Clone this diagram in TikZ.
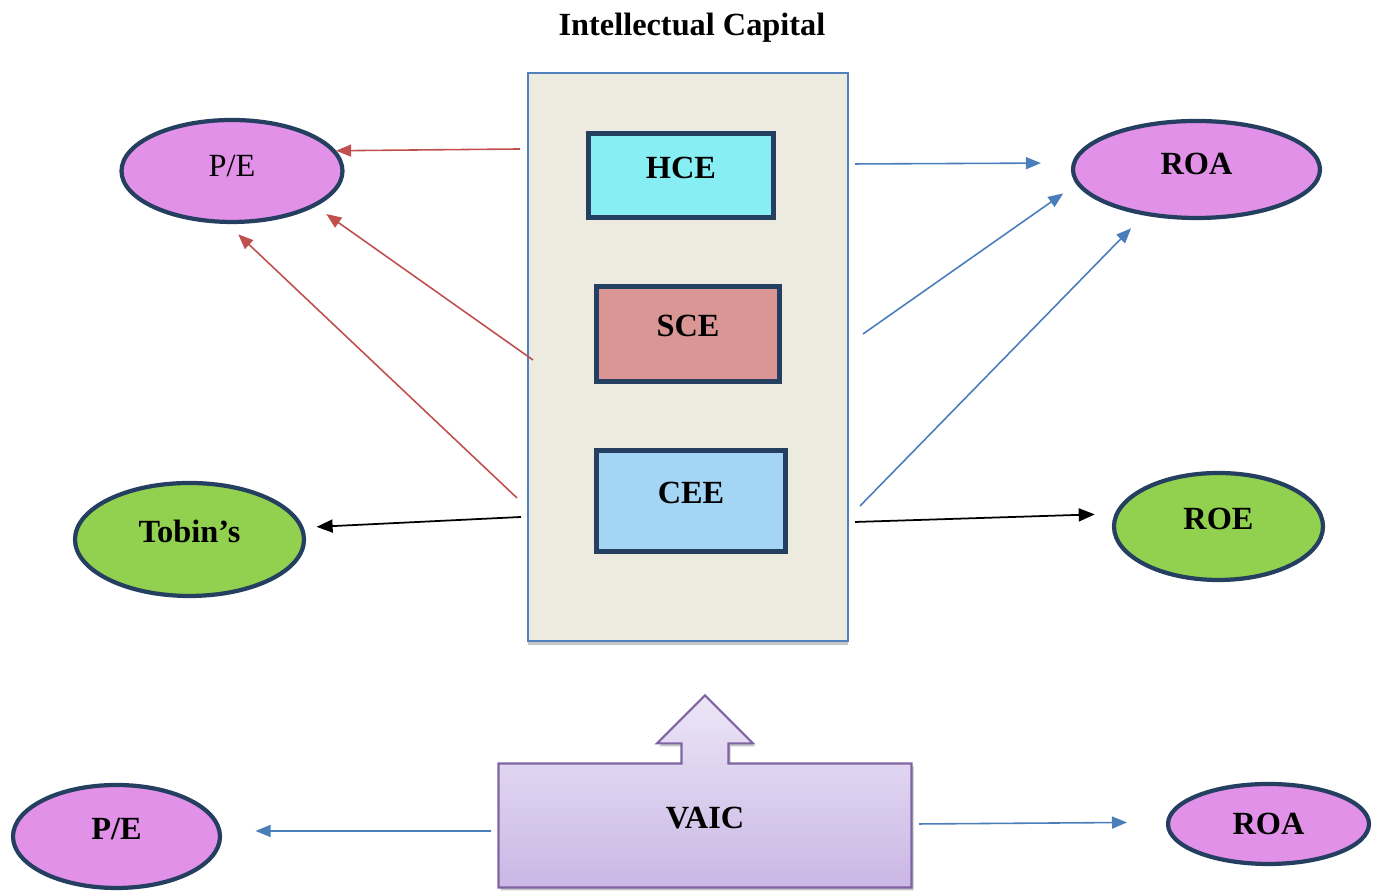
\documentclass[tikz,border=0pt]{standalone}
\usepackage{fontspec}
\setmainfont{Liberation Serif}
\usepackage{tikz}
\usetikzlibrary{arrows.meta}
\usetikzlibrary{positioning, shapes.geometric, shapes.arrows, shadows}

\definecolor{navy}{HTML}{243F60}
\definecolor{boxbg}{HTML}{EDEAE0}
\definecolor{boxline}{HTML}{4F81BD}
\definecolor{hcefill}{HTML}{87EFF3}
\definecolor{scefill}{HTML}{D99694}
\definecolor{ceefill}{HTML}{A5D5F5}
\definecolor{pink}{HTML}{E191E7}
\definecolor{leaf}{HTML}{92D050}
\definecolor{redline}{HTML}{C0504D}
\definecolor{blueline}{HTML}{4A7EBB}
\definecolor{vaicline}{HTML}{8064A2}
\definecolor{vaictop}{HTML}{ECE6F7}
\definecolor{vaicbottom}{HTML}{CAB7E5}

\tikzset{
	lbl/.style={font=\fontsize{9.2}{11}\selectfont\bfseries, text height=6.1pt, text depth=4.5pt},
	part/.style={draw=navy, line width=1.2pt, inner sep=0pt, lbl},
	ratio/.style={ellipse, draw=navy, line width=1.2pt, fill=pink, inner sep=0pt, lbl},
	redarr/.style={draw=redline, line width=0.45pt, -{Triangle[length=0.15cm,width=0.12cm]}},
	bluearr/.style={draw=blueline, line width=0.45pt, -{Triangle[length=0.15cm,width=0.12cm]}},
	blackarr/.style={draw=black, line width=0.5pt, -{Triangle[length=0.16cm,width=0.13cm]}}
}

\begin{document}
\begin{tikzpicture}
	\useasboundingbox (0,0) rectangle (13.76,8.93);

	\node[font=\fontsize{9.2}{11}\selectfont\bfseries] (title) at (6.92,8.65) {Intellectual Capital};

	% intellectual capital block
	\node[draw=boxline, fill=boxbg, line width=0.6pt, minimum width=3.20cm, minimum height=5.68cm,
		drop shadow={shadow xshift=0cm, shadow yshift=-0.04cm, opacity=0.45}] (ic) at (6.88,5.36) {};
	\node[part, fill=hcefill, minimum width=1.85cm, minimum height=0.84cm] (hce) at (6.81,7.175) {HCE};
	\node[part, fill=scefill, minimum width=1.83cm, minimum height=0.95cm] (sce) at (6.88,5.59) {SCE};
	\node[part, fill=ceefill, minimum width=1.89cm, minimum height=1.01cm] (cee) at (6.91,3.92) {CEE};

	% outcome measures
	\node[ratio, minimum width=2.21cm, minimum height=1.02cm, text depth=3pt, font=\fontsize{9.2}{11}\selectfont\mdseries] (pe) at (2.32,7.22) {P/E};
	\node[ratio, minimum width=2.47cm, minimum height=0.97cm, text depth=3pt] (roa) at (11.965,7.235) {ROA};
	\node[ratio, fill=leaf, minimum width=2.29cm, minimum height=1.13cm] (tobin) at (1.895,3.535) {Tobin’s};
	\node[ratio, fill=leaf, minimum width=2.09cm, minimum height=1.07cm] (roe) at (12.185,3.665) {ROE};

	% VAIC
	\node[arrow box, draw=vaicline, line width=0.6pt, top color=vaictop, bottom color=vaicbottom,
		minimum width=4.13cm, minimum height=1.24cm, inner sep=0pt,
		arrow box arrows={north:0.67cm}, arrow box shaft width=0.47cm,
		arrow box head extend=0.245cm, arrow box tip angle=90,
		drop shadow={shadow xshift=0.02cm, shadow yshift=-0.03cm, opacity=0.45}, lbl] (vaic) at (7.05,0.675) {VAIC};
	\node[ratio, minimum width=2.07cm, minimum height=1.03cm] (pe2) at (1.165,0.565) {P/E};
	\node[ratio, minimum width=2.01cm, minimum height=0.80cm, text height=, text depth=] (roa2) at (12.685,0.69) {ROA};

	\coordinate (r1) at (5.20,7.44);
	\coordinate (r2) at (5.33,5.33);
	\coordinate (r3) at (5.17,3.95);
	\coordinate (k1) at (5.21,3.76);
	\coordinate (b1) at (8.55,7.29);
	\coordinate (b2) at (8.63,5.59);
	\coordinate (b3) at (8.60,3.87);
	\coordinate (k2) at (8.55,3.71);
	\coordinate (b4) at (4.91,0.62);
	\coordinate (b5) at (9.19,0.69);

	\draw[redarr] (r1) -- (pe.11);
	\draw[redarr, shorten >=0.13cm] (r2) -- (pe.-23);
	\draw[redarr, shorten >=0.15cm] (r3) -- (pe.-95);
	\draw[blackarr, shorten >=0.13cm] (k1) -- (tobin.6);
	\draw[bluearr, shorten >=0.31cm] (b1) -- (roa.177.5);
	\draw[bluearr, shorten >=0.16cm] (b2) -- (roa.187);
	\draw[bluearr, shorten >=0.18cm] (b3) -- (roa.221);
	\draw[blackarr, shorten >=0.2cm] (k2) -- (roe.173.4);
	\draw[bluearr, shorten >=0.34cm] (b4) -- (pe2.3);
	\draw[bluearr, shorten >=0.39cm] (b5) -- (roa2.179);
\end{tikzpicture}
\end{document}
